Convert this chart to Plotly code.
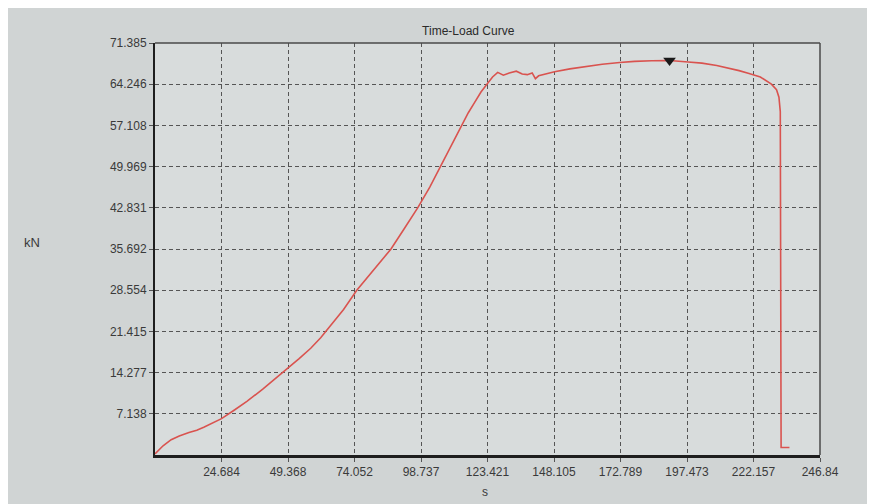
import plotly.graph_objects as go

# ---- data ----
time_s = [0, 3.0, 6.0, 9.0, 12.6, 15.5, 18.1, 21.5, 24.7, 29.5, 34.1, 40.0, 44.5,
          49.4, 53.5, 57.8, 61.5, 65.0, 70.0, 74.9, 81.0, 87.6, 92.5, 97.5, 102.0,
          106.0, 110.0, 113.8, 116.3, 118.6, 121.0, 123.2, 125.3, 127.2, 129.3,
          131.5, 134.1, 136.3, 138.2, 140.0, 141.2, 142.4, 145.0, 148.3, 154.0,
          160.7, 166.0, 172.5, 178.0, 184.4, 191.0, 197.9, 203.0, 208.5, 212.5,
          216.8, 220.5, 224.7, 228.8, 230.7, 231.6, 232.1, 232.4, 235.5]
load_kn = [0.2, 1.6, 2.65, 3.3, 3.9, 4.3, 4.8, 5.5, 6.3, 7.8, 9.3, 11.4, 13.1,
           15.1, 16.7, 18.5, 20.3, 22.3, 25.2, 28.55, 31.9, 35.69, 39.2, 42.83, 46.4,
           49.97, 53.6, 57.1, 59.3, 61.05, 62.9, 64.25, 65.5, 66.3, 65.8,
           66.2, 66.5, 66.0, 65.9, 66.2, 65.2, 65.7, 66.0, 66.4, 66.9,
           67.4, 67.7, 68.0, 68.2, 68.3, 68.35, 68.1, 67.9, 67.5, 67.1,
           66.6, 66.1, 65.5, 64.25, 63.3, 62.0, 59.5, 1.3, 1.3]

x_ticks = [24.684, 49.368, 74.052, 98.737, 123.421, 148.105, 172.789, 197.473, 222.157, 246.84]
x_labels = ["24.684", "49.368", "74.052", "98.737", "123.421", "148.105", "172.789", "197.473", "222.157", "246.84"]
y_ticks = [7.138, 14.277, 21.415, 28.554, 35.692, 42.831, 49.969, 57.108, 64.246, 71.385]
y_labels = ["7.138", "14.277", "21.415", "28.554", "35.692", "42.831", "49.969", "57.108", "64.246", "71.385"]

title_text = "Time-Load Curve"
x_title = "s"
y_title = "kN"

# peak point (marker)
peak_i = max(range(len(load_kn)), key=lambda i: load_kn[i])

FONT = "Liberation Sans, Arial, sans-serif"
TXT = "#3a3a3a"

fig = go.Figure()
fig.add_trace(go.Scatter(x=time_s, y=load_kn, mode="lines",
                         line=dict(color="#d9534f", width=1.6),
                         hoverinfo="skip", showlegend=False))
fig.add_trace(go.Scatter(x=[time_s[peak_i]], y=[load_kn[peak_i]], mode="markers",
                         marker=dict(symbol="triangle-down", size=11, color="#1a1a1a"),
                         hoverinfo="skip", showlegend=False))

fig.update_layout(
    width=875, height=504,
    margin=dict(l=147, r=63, t=35, b=57),
    paper_bgcolor="#d0d4d4",
    plot_bgcolor="#d8dcdc",
    font=dict(family=FONT, size=12, color=TXT),
    title=dict(text=title_text, x=0.526, xanchor="center", y=0.954, yanchor="middle",
               font=dict(family=FONT, size=12, color="#2a2a2a")),
    xaxis=dict(range=[0, 246.84], tickvals=x_ticks, ticktext=x_labels,
               showgrid=True, gridcolor="#555555", griddash="4px,3px", gridwidth=1,
               showline=True, linecolor="#1e1e1e", linewidth=3,
               ticks="outside", ticklen=4, tickcolor="#555", zeroline=False,
               tickfont=dict(family=FONT, size=12, color=TXT)),
    yaxis=dict(range=[0, 71.385], tickvals=y_ticks, ticktext=y_labels,
               showgrid=True, gridcolor="#555555", griddash="4px,3px", gridwidth=1,
               showline=True, linecolor="#1e1e1e", linewidth=2,
               ticks="outside", ticklen=4, tickcolor="#555", zeroline=False,
               tickfont=dict(family=FONT, size=12, color=TXT)),
    shapes=[
        dict(type="line", xref="paper", yref="paper", x0=0, x1=1, y0=1, y1=1,
             line=dict(color="#4a4a4a", width=1.5)),
        dict(type="line", xref="paper", yref="paper", x0=1, x1=1, y0=0, y1=1,
             line=dict(color="#4a4a4a", width=1.5)),
    ],
    annotations=[
        dict(text=y_title, xref="paper", yref="paper", x=-0.185, y=0.515,
             xanchor="center", yanchor="middle",
             showarrow=False, font=dict(family=FONT, size=13, color=TXT)),
        dict(text=x_title, xref="paper", yref="paper", x=0.496, y=-0.09,
             xanchor="center", yanchor="middle",
             showarrow=False, font=dict(family=FONT, size=12, color=TXT)),
    ],
)

fig.write_html("out.html")
